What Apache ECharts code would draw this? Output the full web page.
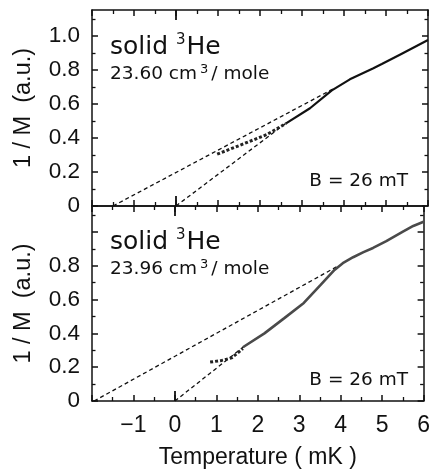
<!DOCTYPE html>
<html><head><meta charset="utf-8">
<script src="https://cdn.jsdelivr.net/npm/echarts@6/dist/echarts.min.js"></script>
<style>html,body{margin:0;padding:0;background:#fff}#c{width:433px;height:470px}</style>
</head><body><div id="c"></div>
<script>
// ---- data ----
const xTickLabels = [-1, 0, 1, 2, 3, 4, 5, 6];
const yMajorTicks = [0, 0.2, 0.4, 0.6, 0.8, 1.0];
const yMinorTicks = [0.1, 0.3, 0.5, 0.7, 0.9, 1.1];
const upperDashA = [[-1.5, 0], [3.75, 0.69]];
const upperDashB = [[0, 0], [2.62, 0.487]];
const upperDots  = [[0.98, 0.305], [1.5, 0.355], [2.16, 0.42], [2.62, 0.486]];
const upperSolid = [[2.62, 0.486], [3.19, 0.575], [3.71, 0.68], [4.14, 0.745], [4.70, 0.81], [4.90, 0.835], [5.33, 0.89], [6.0, 0.976]];
const lowerDashA = [[-1.95, 0], [3.95, 0.80]];
const lowerDashB = [[0, 0], [1.68, 0.325]];
const lowerDots  = [[0.85, 0.23], [1.13, 0.24], [1.37, 0.255], [1.64, 0.31]];
const lowerSolid = [[1.64, 0.318], [2.16, 0.40], [2.64, 0.49], [3.11, 0.58], [3.51, 0.685], [3.85, 0.775], [4.05, 0.815], [4.30, 0.85], [4.55, 0.88], [4.78, 0.905], [5.10, 0.945], [5.49, 1.0], [5.75, 1.035], [6.0, 1.06]];
const upperVolume = '23.60';
const lowerVolume = '23.96';
const fieldText = 'B = 26 mT';

const X_MIN = -2, X_MAX = 6, Y_MIN = 0, Y_MAX = 1.153;
const axisFont = 'Liberation Sans, Arial, sans-serif';
const annFont = 'DejaVu Sans, Verdana, sans-serif';
const ink = '#111';

function xAxes(grid, pos, showLabels) {
  const base = {
    type: 'value', gridIndex: grid, position: pos, min: X_MIN, max: X_MAX, interval: 1,
    splitLine: {show: false}
  };
  return [
    Object.assign({}, base, {
      axisLine: {show: true, onZero: false, lineStyle: {color: ink, width: 1.5}},
      axisTick: {show: true, inside: true, length: 6, lineStyle: {color: ink, width: 1.5}},
      minorTick: {show: true, splitNumber: 2, length: 4, lineStyle: {color: ink, width: 1.3}},
      axisLabel: {show: showLabels, color: ink, fontFamily: axisFont, fontSize: 23, margin: 13,
        formatter: v => xTickLabels.indexOf(v) >= 0 ? String(v).replace('-', '\u2212') : ''},
      name: showLabels ? 'Temperature ( mK )' : '', nameLocation: 'middle', nameGap: 45,
      nameTextStyle: {color: ink, fontFamily: axisFont, fontSize: 23}
    }),
    Object.assign({}, base, {
      axisLine: {show: false, onZero: false},
      axisTick: {show: true, inside: true, length: 10, customValues: [0], lineStyle: {color: ink, width: 1.8}},
      axisLabel: {show: false}
    })
  ];
}
function yAxes(grid, pos, showLabels, hideTop) {
  const base = {
    type: 'value', gridIndex: grid, position: pos, min: Y_MIN, max: Y_MAX,
    splitLine: {show: false}
  };
  return [
    Object.assign({}, base, {
      axisLine: {show: true, onZero: false, lineStyle: {color: ink, width: 1.5}},
      axisTick: {show: true, inside: true, length: 6, customValues: yMajorTicks, lineStyle: {color: ink, width: 1.5}},
      axisLabel: {show: showLabels, color: ink, fontFamily: axisFont, fontSize: 22.5, margin: 12,
        customValues: hideTop ? yMajorTicks.slice(0, -1) : yMajorTicks,
        formatter: v => v === 0 ? '0' : v.toFixed(1)},
      name: showLabels ? '1 / M  (a.u.)' : '', nameLocation: 'middle', nameGap: 56,
      nameTextStyle: {color: ink, fontFamily: axisFont, fontSize: 23.5}
    }),
    Object.assign({}, base, {
      axisLine: {show: false, onZero: false},
      axisTick: {show: true, inside: true, length: 3.5, customValues: yMinorTicks, lineStyle: {color: ink, width: 1.3}},
      axisLabel: {show: false}
    })
  ];
}

const xAxisList = [].concat(
  xAxes(0, 'bottom', false), xAxes(0, 'top', false),
  xAxes(1, 'bottom', true), xAxes(1, 'top', false)
);
const yAxisList = [].concat(
  yAxes(0, 'left', true, false), yAxes(0, 'right', false, false),
  yAxes(1, 'left', true, true), yAxes(1, 'right', false, false)
);

function line(data, grid, kind) {
  const s = {
    type: 'line', data: data, xAxisIndex: grid * 4, yAxisIndex: grid * 4,
    showSymbol: false, symbol: 'none', silent: true, animation: false, clip: true, z: 5
  };
  if (kind === 'dash') s.lineStyle = {color: ink, width: 1.3, type: [4, 3]};
  else if (kind === 'dots') s.lineStyle = {color: '#222', width: 3, type: [3, 2]};
  else if (kind === 'solidBlack') s.lineStyle = {color: '#111', width: 2.2};
  else s.lineStyle = {color: '#4a4a4a', width: 2.6};
  return s;
}

function labelBlock(top, vol) {
  return [
    {type: 'text', left: 110, top: top, z: 10,
      style: {text: '{a|solid }{s|3}{a|He}', fill: ink,
        rich: {a: {fontFamily: annFont, fontSize: 25, fill: ink, lineHeight: 29},
               s: {fontFamily: annFont, fontSize: 15, fill: ink, verticalAlign: 'top', lineHeight: 29, padding: [0, 1, 0, 0]}}}},
    {type: 'text', left: 110, top: top + 30, z: 10,
      style: {text: '{a|' + vol + ' cm}{s|3}{a|/ mole}', fill: ink,
        rich: {a: {fontFamily: annFont, fontSize: 18.5, fill: ink, lineHeight: 22},
               s: {fontFamily: annFont, fontSize: 13, fill: ink, verticalAlign: 'top', lineHeight: 22, padding: [0, 3, 0, 3]}}}}
  ];
}

const chart = echarts.init(document.getElementById('c'), null, {renderer: 'canvas'});
chart.setOption({
  backgroundColor: '#fff',
  animation: false,
  grid: [
    {left: 92, top: 10, width: 336, height: 196, containLabel: false},
    {left: 92, top: 206, width: 336, height: 196, containLabel: false}
  ],
  xAxis: xAxisList,
  yAxis: yAxisList,
  series: [
    line(upperDashA, 0, 'dash'), line(upperDashB, 0, 'dash'),
    line(upperDots, 0, 'dots'), line(upperSolid, 0, 'solidBlack'),
    line(lowerDashA, 1, 'dash'), line(lowerDashB, 1, 'dash'),
    line(lowerDots, 1, 'dots'), line(lowerSolid, 1, 'solidGray')
  ],
  graphic: [].concat(
    labelBlock(33, upperVolume),
    labelBlock(228, lowerVolume),
    [
      {type: 'text', right: 25, top: 172, z: 10, style: {text: fieldText, fill: ink, fontFamily: annFont, fontSize: 18.5}},
      {type: 'text', right: 25, top: 371, z: 10, style: {text: fieldText, fill: ink, fontFamily: annFont, fontSize: 18.5}}
    ]
  )
});
</script></body></html>
